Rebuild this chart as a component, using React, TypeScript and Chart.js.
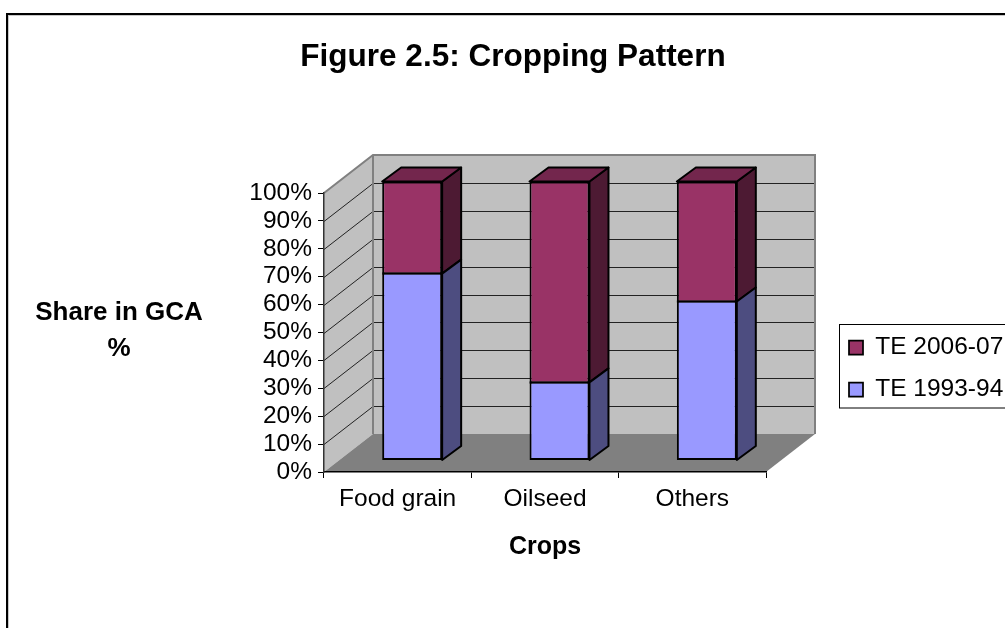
import React, { useEffect, useRef } from "react";
import { Chart, registerables } from "chart.js";

Chart.register(...registerables);

const categories = ["Food grain", "Oilseed", "Others"];
const te199394 = [67, 28, 57];
const te200607 = [33, 72, 43];
const seriesNames = ["TE 1993-94", "TE 2006-07"];
const chartTitle = "Figure 2.5: Cropping Pattern";
const yAxisTitle = ["Share in GCA", "%"];
const xAxisTitle = "Crops";

const FONT = "'Liberation Sans', Arial, sans-serif";
const WALL_DX = 49;
const WALL_DY = -38;
const BAR_SHIFT_X = 14.5;
const BAR_SHIFT_Y = -11.5;
const BAR_DX = 19;
const BAR_DY = -14;

const poly = (ctx: CanvasRenderingContext2D, pts: number[][], fill: string | null, stroke: string | null, lw = 1) => {
  ctx.beginPath();
  pts.forEach((p, i) => (i ? ctx.lineTo(p[0], p[1]) : ctx.moveTo(p[0], p[1])));
  ctx.closePath();
  if (fill) {
    ctx.fillStyle = fill;
    ctx.fill();
  }
  if (stroke) {
    ctx.strokeStyle = stroke;
    ctx.lineWidth = lw;
    ctx.stroke();
  }
};

const scene = {
  id: "scene3d",
  afterLayout(chart: any) {
    const t = chart.titleBlock;
    t.left = 21;
    t.right = chart.width;
    t.top = 38;
    const l = chart.legend;
    const pad = l.options.labels.padding;
    l.left = 849 - pad;
    l.right = chart.width;
    l.top = 347.5 - pad - 12.25;
    l.bottom = chart.height;
  },
  beforeDraw(chart: any) {
    const { ctx, chartArea: a, scales } = chart;
    ctx.save();
    ctx.fillStyle = "#fff";
    ctx.fillRect(0, 0, chart.width, chart.height);
    ctx.strokeStyle = "#c8c8c8";
    ctx.lineWidth = 1;
    ctx.strokeRect(8.5, 15.5, chart.width + 20, chart.height + 20);
    ctx.strokeStyle = "#000";
    ctx.lineWidth = 2;
    ctx.strokeRect(7, 14, chart.width + 20, chart.height + 20);

    const L = a.left, R = a.right, T = a.top, B = a.bottom;
    const dx = WALL_DX, dy = WALL_DY;
    poly(ctx, [[L, T], [L + dx, T + dy], [L + dx, B + dy], [L, B]], "#C0C0C0", null);
    poly(ctx, [[L + dx, T + dy], [R + dx, T + dy], [R + dx, B + dy], [L + dx, B + dy]], "#C0C0C0", null);
    poly(ctx, [[L, B], [L + dx, B + dy], [R + dx, B + dy], [R, B]], "#808080", null);

    ctx.strokeStyle = "#222";
    ctx.lineWidth = 1;
    scales.y.ticks.forEach((tk: any) => {
      if (tk.value === 0 || tk.value === 100) return;
      const y = Math.round(scales.y.getPixelForValue(tk.value)) + 0.5;
      ctx.beginPath();
      ctx.moveTo(L, y);
      ctx.lineTo(L + dx, y + dy);
      ctx.lineTo(R + dx, y + dy);
      ctx.stroke();
    });

    ctx.strokeStyle = "#808080";
    ctx.lineWidth = 2;
    ctx.beginPath();
    ctx.moveTo(L, T);
    ctx.lineTo(L + dx, T + dy);
    ctx.lineTo(R + dx, T + dy);
    ctx.lineTo(R + dx, B + dy);
    ctx.moveTo(L + dx, T + dy);
    ctx.lineTo(L + dx, B + dy);
    ctx.stroke();

    ctx.fillStyle = "#000";
    ctx.font = `bold 26px ${FONT}`;
    ctx.textAlign = "center";
    ctx.textBaseline = "middle";
    ctx.fillText(yAxisTitle[0], 119, 313);
    ctx.fillText(yAxisTitle[1], 119, 349);
    ctx.restore();
  },
  beforeDatasetDraw(chart: any, args: any) {
    const { ctx } = chart;
    ctx.save();
    ctx.translate(BAR_SHIFT_X, BAR_SHIFT_Y);
    const ds = chart.data.datasets[args.index];
    const isTop = args.index === chart.data.datasets.length - 1;
    args.meta.data.forEach((el: any) => {
      const p = el.getProps(["x", "y", "base", "width"], true);
      const l = p.x - p.width / 2, r = p.x + p.width / 2;
      ctx.lineJoin = "round";
      poly(ctx, [[r, p.y], [r + BAR_DX, p.y + BAR_DY], [r + BAR_DX, p.base + BAR_DY], [r, p.base]], ds.sideColor, "#000", 2);
      if (isTop) {
        poly(ctx, [[l, p.y], [l + BAR_DX, p.y + BAR_DY], [r + BAR_DX, p.y + BAR_DY], [r, p.y]], ds.topColor, "#000", 2);
      }
    });
  },
  afterDatasetDraw(chart: any, args: any) {
    const { ctx } = chart;
    if (args.index === 0) {
      ctx.strokeStyle = "#000";
      ctx.lineWidth = 2;
      args.meta.data.forEach((el: any) => {
        const p = el.getProps(["x", "y", "width"], true);
        ctx.beginPath();
        ctx.moveTo(p.x - p.width / 2, p.y);
        ctx.lineTo(p.x + p.width / 2, p.y);
        ctx.stroke();
      });
    }
    ctx.restore();
  },
  afterDraw(chart: any) {
    const { ctx } = chart;
    ctx.save();
    ctx.strokeStyle = "#000";
    ctx.lineWidth = 1;
    ctx.strokeRect(839.5, 324.5, chart.width, 83.5);
    ctx.restore();
  },
};

export default function App() {
  const ref = useRef<HTMLCanvasElement>(null);
  useEffect(() => {
    const chart = new Chart(ref.current!, {
      type: "bar",
      data: {
        labels: categories,
        datasets: [
          {
            label: seriesNames[0],
            data: te199394,
            backgroundColor: "#9999FF",
            borderColor: "#000",
            borderWidth: { left: 2, right: 2, bottom: 2, top: 1 },
            borderSkipped: false,
            sideColor: "#4D4D80",
            topColor: "#7373BF",
            clip: false,
          },
          {
            label: seriesNames[1],
            data: te200607,
            backgroundColor: "#993366",
            borderColor: "#000",
            borderWidth: { left: 2, right: 2, bottom: 1, top: 2 },
            borderSkipped: false,
            sideColor: "#4D1A33",
            topColor: "#73264D",
            clip: false,
          },
        ] as any,
      },
      options: {
        responsive: false,
        animation: false,
        layout: { padding: { left: 244, right: 239, top: 155.2, bottom: 66 } },
        datasets: { bar: { barPercentage: 0.407, categoryPercentage: 1 } },
        scales: {
          x: {
            stacked: true,
            afterFit: (s: any) => {
              s.height = 90;
            },
            grid: { drawOnChartArea: false, drawTicks: true, tickLength: 6, color: "#000" },
            border: { color: "#000", width: 1.5 },
            ticks: { color: "#000", font: { family: FONT, size: 24.5 }, padding: 7, maxRotation: 0, autoSkip: false },
            title: { display: true, text: xAxisTitle, color: "#000", font: { family: FONT, size: 25, weight: "bold" }, padding: 0 },
          },
          y: {
            stacked: true,
            min: 0,
            max: 100,
            afterFit: (s: any) => {
              s.width = 80;
            },
            grid: { drawOnChartArea: false, drawTicks: true, tickLength: 6, color: "#000" },
            border: { color: "#333", width: 1.5 },
            ticks: {
              stepSize: 10,
              autoSkip: false,
              color: "#000",
              padding: 6,
              font: { family: FONT, size: 24.5 },
              callback: (v: any) => `${v}%`,
            },
          },
        },
        plugins: {
          title: { display: true, text: chartTitle, color: "#000", font: { family: FONT, size: 31.5, weight: "bold" }, padding: 0 },
          legend: {
            position: "chartArea",
            align: "start",
            reverse: true,
            labels: {
              color: "#000",
              font: { family: FONT, size: 24.5 },
              boxWidth: 14,
              boxHeight: 14,
              padding: 17.5,
            },
          },
          tooltip: { enabled: false },
        },
      } as any,
      plugins: [scene],
    });
    return () => chart.destroy();
  }, []);
  return (
    <canvas
      ref={ref}
      width={1005}
      height={628}
      style={{ position: "fixed", left: 0, top: 0, display: "block", width: 1005, height: 628 }}
    />
  );
}
